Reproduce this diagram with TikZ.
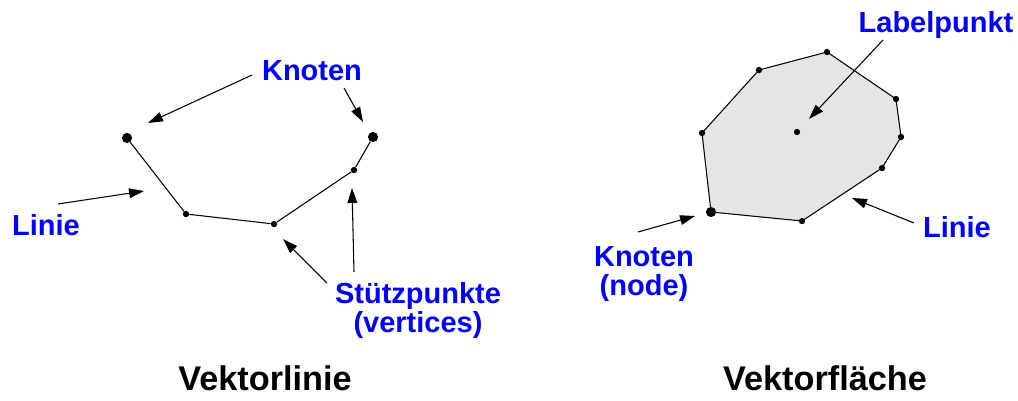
\documentclass[tikz,border=0pt]{standalone}
\usepackage{fontspec}
\setmainfont{Liberation Sans}
\usetikzlibrary{arrows.meta, backgrounds}

\definecolor{flaeche}{RGB}{229,229,229}

\begin{document}
\begin{tikzpicture}[x=0.02cm, y=-0.02cm,
		punkt/.style={circle, fill=black, inner sep=0pt, minimum size=3.6pt},
		knoten/.style={circle, fill=black, inner sep=0pt, minimum size=5.8pt},
		linie/.style={line width=0.6pt},
		pfeil/.style={line width=0.6pt, -{Triangle[length=8.5pt, width=5.5pt]}},
		beschr/.style={text=blue, font=\fontsize{16.5}{16.5}\selectfont\bfseries, inner sep=0pt, align=center},
		titel/.style={font=\fontsize{19.5}{19.5}\selectfont\bfseries, inner sep=0pt, anchor=base}]
		\useasboundingbox (0,0) rectangle (1018,400);

		% Vektorlinie
		\node[knoten] (KL) at (127,138) {};
		\node[punkt] (V1) at (186,214) {};
		\node[punkt] (V2) at (274,224) {};
		\node[punkt] (V3) at (354,170) {};
		\node[knoten] (KR) at (373,137) {};

		\draw[linie] (KL) -- (V1) -- (V2) -- (V3) -- (KR);

		\node[beschr, anchor=base] (knotenL) at (312,80) {Knoten};
		\node[beschr, anchor=base] (linieL) at (46,235) {Linie};
		\node[beschr, anchor=north] (stuetz) at (418,282) {Stützpunkte\\(vertices)};

		\coordinate (k1a) at (252,75);  \coordinate (k1b) at (148,123);
		\coordinate (k2a) at (344,88);  \coordinate (k2b) at (363,122);
		\coordinate (la) at (58,204);   \coordinate (lb) at (144,191);
		\coordinate (s1a) at (327,283); \coordinate (s1b) at (283,239);
		\coordinate (s2a) at (354,272); \coordinate (s2b) at (352,188);

		\draw[pfeil] (k1a) -- (k1b);
		\draw[pfeil] (k2a) -- (k2b);
		\draw[pfeil] (la) -- (lb);
		\draw[pfeil] (s1a) -- (s1b);
		\draw[pfeil] (s2a) -- (s2b);

		\node[titel] (titelL) at (265,390) {Vektorlinie};

		% Vektorflaeche
		\node[knoten] (KA) at (711,212) {};
		\node[punkt] (P1) at (802,221) {};
		\node[punkt] (P2) at (882,168) {};
		\node[punkt] (P3) at (901,137) {};
		\node[punkt] (P4) at (896,99) {};
		\node[punkt] (P5) at (827,52) {};
		\node[punkt] (P6) at (759,70) {};
		\node[punkt] (P7) at (702,133) {};
		\node[punkt] (LP) at (797,132) {};

		\begin{scope}[on background layer]
			\draw[linie, fill=flaeche] (KA.center) -- (P1.center) -- (P2.center) -- (P3.center)
				-- (P4.center) -- (P5.center) -- (P6.center) -- (P7.center) -- cycle;
		\end{scope}

		\node[beschr, anchor=base] (labelp) at (936,32) {Labelpunkt};
		\node[beschr, anchor=base] (linieR) at (957,237) {Linie};
		\node[beschr, anchor=north] (knotenR) at (644,246) {Knoten\\(node)};

		\coordinate (lpa) at (883,40);  \coordinate (lpb) at (809,119);
		\coordinate (lra) at (914,223); \coordinate (lrb) at (852,198);
		\coordinate (kra) at (638,232); \coordinate (krb) at (695,216);

		\draw[pfeil] (lpa) -- (lpb);
		\draw[pfeil] (lra) -- (lrb);
		\draw[pfeil] (kra) -- (krb);

		\node[titel] (titelR) at (825,390) {Vektorfläche};
	\end{tikzpicture}
\end{document}
